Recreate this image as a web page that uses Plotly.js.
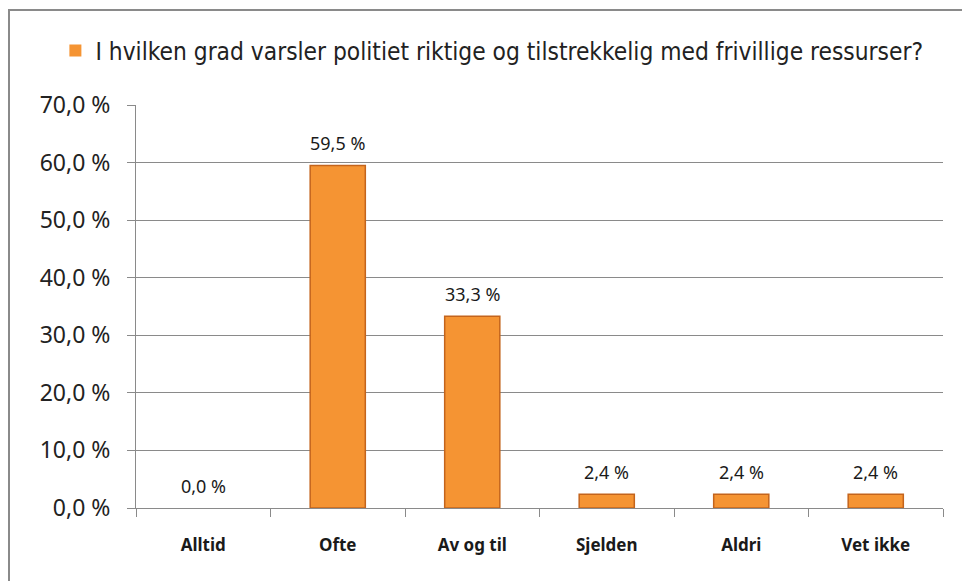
<!DOCTYPE html>
<html>
<head>
<meta charset="utf-8">
<script src="https://cdn.plot.ly/plotly-3.0.1.min.js"></script>
<style>
  html, body { margin: 0; padding: 0; background: #fff; }
  #wrap { position: relative; width: 962px; height: 581px; overflow: hidden; }
  #frame { position: absolute; left: 8px; top: 9px; width: 1000px; height: 1000px;
           border-left: 2px solid #8a8a8a; border-top: 2px solid #8a8a8a; pointer-events: none; }
  #chart { position: absolute; left: 0; top: 0; width: 962px; height: 581px; }
</style>
</head>
<body>
<div id="wrap">
  <div id="chart"></div>
  <div id="frame"></div>
</div>
<script>
const categories = ["Alltid", "Ofte", "Av og til", "Sjelden", "Aldri", "Vet ikke"];
const values = [0.0, 59.5, 33.3, 2.4, 2.4, 2.4];
const seriesName = "I hvilken grad varsler politiet riktige og tilstrekkelig med frivillige ressurser?";
const yTickVals = [0, 10, 20, 30, 40, 50, 60, 70];
const yTickText = ["0,0 %", "10,0 %", "20,0 %", "30,0 %", "40,0 %", "50,0 %", "60,0 %", "70,0 %"];

const fmt = v => v.toFixed(1).replace(".", ",") + " %";

const trace = {
  type: "bar",
  x: categories,
  y: values,
  name: seriesName,
  width: 0.41,
  marker: {
    color: "#F59433",
    line: { color: "#C4641C", width: values.map(v => v > 0 ? 1.5 : 0) }
  },
  hoverinfo: "skip",
  showlegend: true
};

const annotations = categories.map((c, i) => ({
  x: c, y: values[i], xref: "x", yref: "y",
  text: fmt(values[i]), showarrow: false,
  yanchor: "middle", yshift: 22,
  font: { family: "Noto Sans, sans-serif", size: 18, color: "#1a1a1a" }
}));

const layout = {
  width: 962, height: 581,
  margin: { l: 136, r: 19, t: 104.5, b: 72.5 },
  paper_bgcolor: "#ffffff", plot_bgcolor: "#ffffff",
  showlegend: true,
  legend: {
    orientation: "h", x: 0.441, xanchor: "center", y: 1.135, yanchor: "middle",
    font: { family: "Liberation Sans Narrow, DejaVu Sans Condensed, sans-serif", size: 24.3, color: "#222" },
    bgcolor: "rgba(0,0,0,0)"
  },
  xaxis: {
    type: "category",
    tickson: "boundaries",
    ticks: "outside", ticklen: 8, tickcolor: "#8a8a8a", tickwidth: 1,
    showline: true, linecolor: "#8a8a8a", linewidth: 1, mirror: false,
    showgrid: false,
    ticklabelstandoff: 22,
    tickfont: { family: "Noto Sans, sans-serif", size: 17, color: "#1a1a1a", weight: "bold" },
    fixedrange: true
  },
  yaxis: {
    range: [0, 70],
    tickvals: yTickVals, ticktext: yTickText,
    ticks: "outside", ticklen: 8, tickcolor: "#8a8a8a", tickwidth: 1,
    showline: true, linecolor: "#8a8a8a", linewidth: 1,
    showgrid: true, gridcolor: "#8a8a8a", gridwidth: 1,
    zeroline: false,
    ticklabelstandoff: 12,
    tickfont: { family: "Noto Sans, sans-serif", size: 23, color: "#222" },
    fixedrange: true
  },
  annotations: annotations
};

Plotly.newPlot("chart", [trace], layout, { displayModeBar: false, staticPlot: true });
</script>
</body>
</html>
